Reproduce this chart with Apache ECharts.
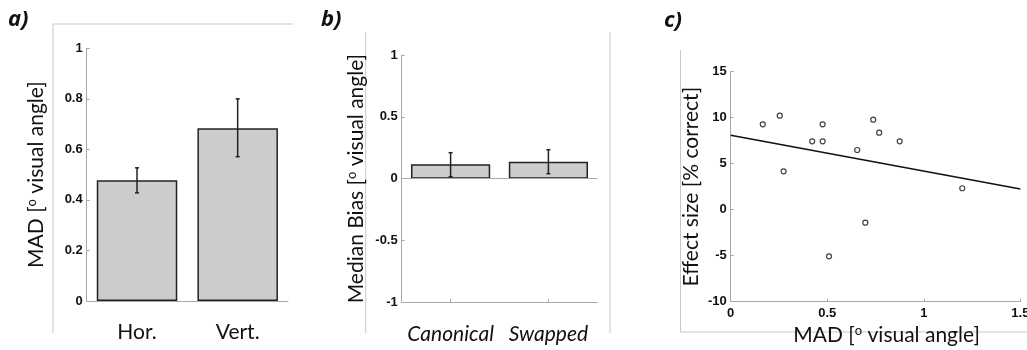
<!DOCTYPE html>
<html>
<head>
<meta charset="utf-8">
<script src="https://cdn.jsdelivr.net/npm/echarts@6/dist/echarts.min.js"></script>
<style>
html,body{margin:0;padding:0;background:#fff;}
#chart{width:1027px;height:350px;}
</style>
</head>
<body>
<div id="chart"></div>
<script>
// Panel a
const catsA = ['Hor.', 'Vert.'];
const madMean = [0.478, 0.684];
const madLow = [0.428, 0.571];
const madHigh = [0.527, 0.800];

// Panel b
const catsB = ['Canonical', 'Swapped'];
const biasMean = [0.116, 0.137];
const biasLow = [0.016, 0.040];
const biasHigh = [0.210, 0.234];

// Panel c
const scatterX = [0.166, 0.254, 0.274, 0.422, 0.476, 0.476, 0.509, 0.655, 0.697, 0.738, 0.769, 0.875, 1.199];
const scatterY = [9.28, 10.22, 4.17, 7.43, 9.28, 7.43, -5.07, 6.49, -1.41, 9.78, 8.37, 7.43, 2.33];
const fitX = [0, 1.5];
const fitY = [8.1, 2.25];

const axisGray = '#a8a8a8';
const frameGray = '#c8c8c8';
const tickFont = {color: '#111', fontWeight: 'bold', fontSize: 13, fontFamily: 'Liberation Sans'};
const nameFontSize = 21;
const nameFont = 'Lato';
const supRich = {sup: {fontSize: 13, fontFamily: nameFont, color: '#111', verticalAlign: 'top', padding: [0, 0, 6, 0]}};

function errRender(params, api) {
  const x = api.value(0);
  const lo = api.coord([x, api.value(1)]);
  const hi = api.coord([x, api.value(2)]);
  const cap = 2;
  const style = {stroke: '#222', lineWidth: 1.5};
  return {
    type: 'group',
    children: [
      {type: 'line', shape: {x1: lo[0], y1: lo[1], x2: hi[0], y2: hi[1]}, style},
      {type: 'line', shape: {x1: lo[0] - cap, y1: lo[1], x2: lo[0] + cap, y2: lo[1]}, style},
      {type: 'line', shape: {x1: hi[0] - cap, y1: hi[1], x2: hi[0] + cap, y2: hi[1]}, style}
    ]
  };
}

const errA = catsA.map((c, i) => [i, madLow[i], madHigh[i]]);
const errB = catsB.map((c, i) => [i, biasLow[i], biasHigh[i]]);
const scatterData = scatterX.map((x, i) => [x, scatterY[i]]);
const fitData = fitX.map((x, i) => [x, fitY[i]]);

const chart = echarts.init(document.getElementById('chart'), null, {renderer: 'canvas'});

const panelLabel = (t, left, top) => ({
  type: 'text', left, top,
  style: {text: t, fontSize: 22, fontWeight: 'bold', fontStyle: 'italic', fontFamily: 'Open Sans', fill: '#111'}
});
const frameLine = (x1, y1, x2, y2) => ({
  type: 'line', shape: {x1, y1, x2, y2}, style: {stroke: frameGray, lineWidth: 1}, silent: true
});

const option = {
  animation: false,
  backgroundColor: '#fff',
  grid: [
    {left: 86.7, top: 48.3, width: 201.3, height: 252.7, containLabel: false, outerBoundsMode: 'none'},
    {left: 401.7, top: 55, width: 195.6, height: 247.3, containLabel: false, outerBoundsMode: 'none'},
    {left: 730.7, top: 71.7, width: 289.7, height: 230, containLabel: false, outerBoundsMode: 'none'}
  ],
  xAxis: [
    {
      gridIndex: 0, type: 'category', data: catsA,
      axisLine: {lineStyle: {color: axisGray, width: 1}},
      axisTick: {show: false},
      axisLabel: {color: '#111', fontSize: 21, fontFamily: nameFont, margin: 21, interval: 0, hideOverlap: false},
      splitLine: {show: false}
    },
    {
      gridIndex: 1, type: 'category', data: catsB,
      axisLine: {onZero: false, lineStyle: {color: axisGray, width: 1}},
      axisTick: {show: true, inside: true, length: 3, alignWithLabel: true, interval: 0, lineStyle: {color: axisGray}},
      axisLabel: {color: '#111', fontSize: 21, fontStyle: 'italic', fontFamily: nameFont, margin: 21, interval: 0, hideOverlap: false},
      splitLine: {show: false}
    },
    {
      gridIndex: 2, type: 'value', min: 0, max: 1.5, interval: 0.5,
      axisLine: {onZero: false, lineStyle: {color: axisGray, width: 1}},
      axisTick: {show: true, inside: true, length: 3, lineStyle: {color: axisGray}},
      axisLabel: Object.assign({margin: 5, showMaxLabel: true, hideOverlap: false}, tickFont),
      splitLine: {show: false},
      name: 'MAD [{sup|o} visual angle]', nameLocation: 'middle', nameGap: 19,
      nameTextStyle: {color: '#111', fontSize: nameFontSize, fontFamily: nameFont, padding: [0, 0, 0, 22], rich: supRich}
    }
  ],
  yAxis: [
    {
      gridIndex: 0, type: 'value', min: 0, max: 1, interval: 0.2,
      axisLine: {show: true, lineStyle: {color: axisGray, width: 1}},
      axisTick: {show: true, inside: true, length: 3, lineStyle: {color: axisGray}},
      axisLabel: Object.assign({margin: 4, formatter: v => String(+v.toFixed(1))}, tickFont),
      splitLine: {show: false},
      name: 'MAD [{sup|o} visual angle]', nameLocation: 'middle', nameGap: 40,
      nameTextStyle: {color: '#111', fontSize: nameFontSize, fontFamily: nameFont, rich: supRich}
    },
    {
      gridIndex: 1, type: 'value', min: -1, max: 1, interval: 0.5,
      axisLine: {show: true, onZero: false, lineStyle: {color: axisGray, width: 1}},
      axisTick: {show: true, inside: true, length: 3, lineStyle: {color: axisGray}},
      axisLabel: Object.assign({margin: 4}, tickFont),
      splitLine: {show: false},
      name: 'Median Bias [{sup|o} visual angle]', nameLocation: 'middle', nameGap: 35,
      nameTextStyle: {color: '#111', fontSize: nameFontSize, fontFamily: nameFont, rich: supRich}
    },
    {
      gridIndex: 2, type: 'value', min: -10, max: 15, interval: 5,
      axisLine: {show: true, onZero: false, lineStyle: {color: axisGray, width: 1}},
      axisTick: {show: true, inside: true, length: 3, lineStyle: {color: axisGray}},
      axisLabel: Object.assign({margin: 4}, tickFont),
      splitLine: {show: false},
      name: 'Effect size [% correct]', nameLocation: 'middle', nameGap: 29,
      nameTextStyle: {color: '#111', fontSize: nameFontSize, fontFamily: nameFont}
    }
  ],
  series: [
    {
      type: 'bar', xAxisIndex: 0, yAxisIndex: 0, data: madMean, barWidth: '80%',
      itemStyle: {color: '#cccccc', borderColor: '#222', borderWidth: 1.5},
      silent: true
    },
    {
      type: 'custom', xAxisIndex: 0, yAxisIndex: 0, data: errA, renderItem: errRender, z: 5, silent: true
    },
    {
      type: 'bar', xAxisIndex: 1, yAxisIndex: 1, data: biasMean, barWidth: '81%',
      itemStyle: {color: '#cccccc', borderColor: '#222', borderWidth: 1.5},
      silent: true,
      markLine: {
        silent: true, symbol: ['none', 'none'], label: {show: false},
        lineStyle: {color: axisGray, width: 1, type: 'solid'},
        data: [{yAxis: 0}]
      }
    },
    {
      type: 'custom', xAxisIndex: 1, yAxisIndex: 1, data: errB, renderItem: errRender, z: 5, silent: true
    },
    {
      type: 'line', xAxisIndex: 2, yAxisIndex: 2, data: fitData, showSymbol: false,
      lineStyle: {color: '#111', width: 1.6}, silent: true
    },
    {
      type: 'scatter', xAxisIndex: 2, yAxisIndex: 2, data: scatterData, symbol: 'circle', symbolSize: 5,
      itemStyle: {color: '#fff', borderColor: '#111', borderWidth: 1.2}, silent: true, z: 4
    }
  ],
  graphic: [
    frameLine(53, 24, 293, 24),
    frameLine(53, 24, 53, 333),
    frameLine(365.7, 32, 365.7, 333),
    frameLine(610, 32, 610, 333),
    frameLine(680.5, 50, 680.5, 332),
    frameLine(680.5, 332, 1027, 332),
    panelLabel('a)', 8, 9),
    panelLabel('b)', 321, 9),
    panelLabel('c)', 664, 10)
  ]
};
chart.setOption(option);
</script>
</body>
</html>
